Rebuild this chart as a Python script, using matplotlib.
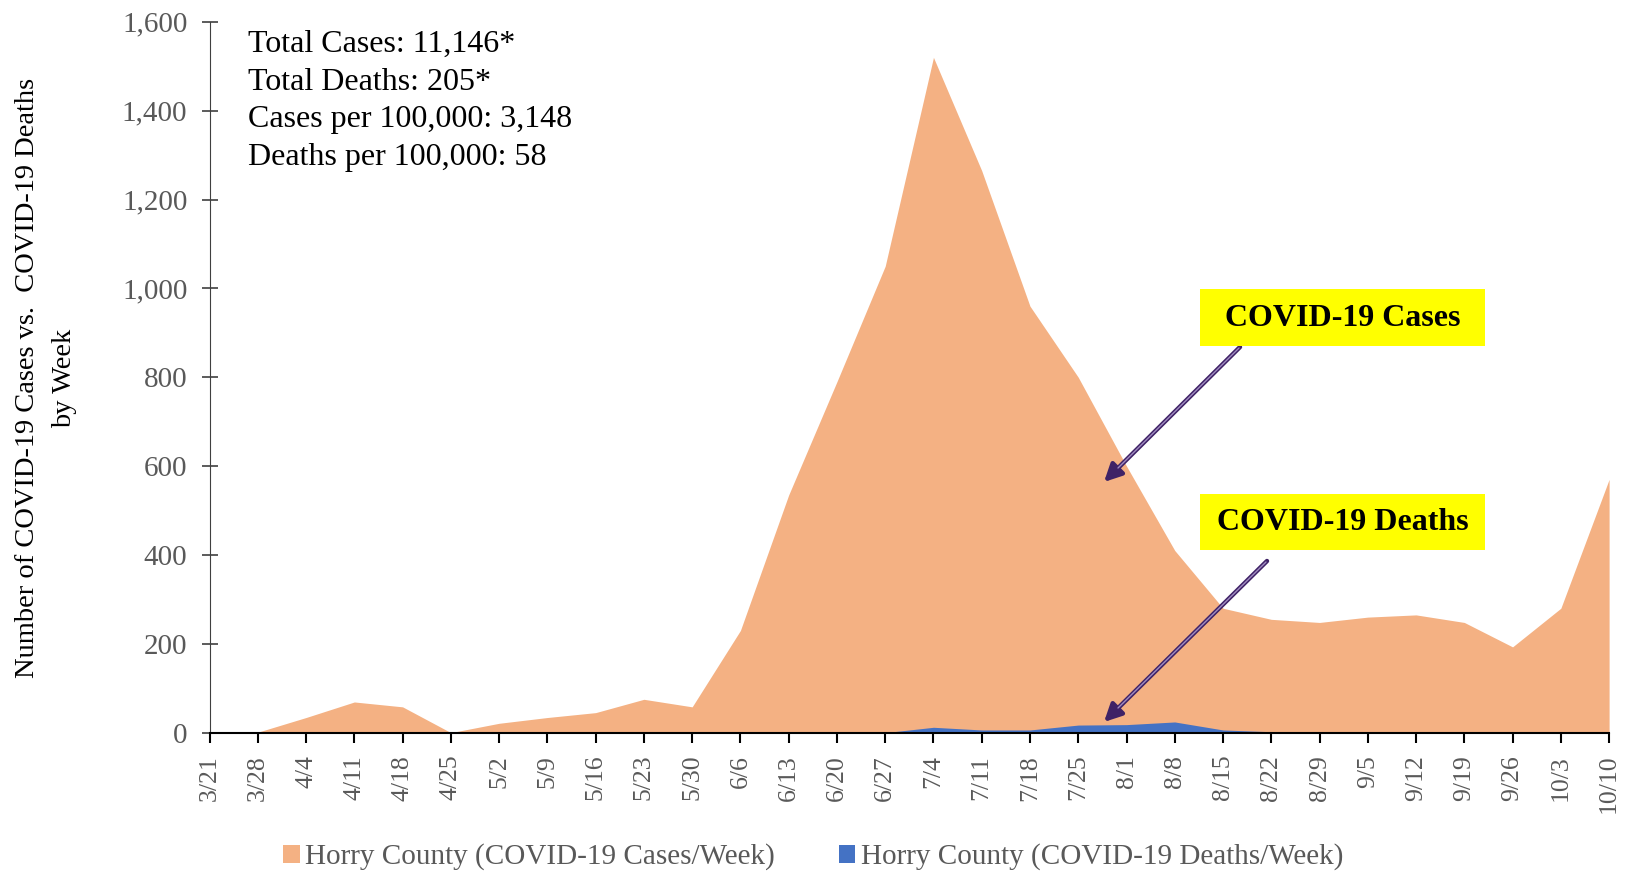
import matplotlib.pyplot as plt
from matplotlib.ticker import FuncFormatter
from matplotlib.patches import Rectangle

plt.rcParams['font.family'] = ['Liberation Serif', 'DejaVu Serif']

weeks = ['3/21', '3/28', '4/4', '4/11', '4/18', '4/25', '5/2', '5/9', '5/16', '5/23',
         '5/30', '6/6', '6/13', '6/20', '6/27', '7/4', '7/11', '7/18', '7/25', '8/1',
         '8/8', '8/15', '8/22', '8/29', '9/5', '9/12', '9/19', '9/26', '10/3', '10/10']
cases = [0, 1, 34, 69, 58, 0, 21, 34, 45, 75,
         58, 230, 535, 790, 1050, 1520, 1265, 960, 800, 600,
         410, 280, 255, 248, 260, 265, 248, 193, 280, 570]
deaths = [0, 0, 0, 0, 0, 0, 0, 0, 0, 0,
          0, 0, 0, 0, 0, 12, 6, 6, 17, 18,
          24, 6, 2, 0, 0, 0, 0, 0, 0, 0]

stats_text = "Total Cases: 11,146*\nTotal Deaths: 205*\nCases per 100,000: 3,148\nDeaths per 100,000: 58"

orange = '#F4B183'
blue = '#4472C4'
grey = '#595959'

W, H = 1627, 873
fig = plt.figure(figsize=(W / 100, H / 100), dpi=100)
ax = fig.add_axes([0.1288, 0.1608, 0.989 - 0.1288, 0.975 - 0.1608])

x = list(range(len(weeks)))
ax.fill_between(x, 0, cases, color=orange, linewidth=0,
                label='Horry County (COVID-19 Cases/Week)')
ax.fill_between(x, 0, deaths, color=blue, linewidth=0,
                label='Horry County (COVID-19 Deaths/Week)')

ax.set_xlim(0, len(weeks) - 1)
ax.set_ylim(0, 1600)
ax.set_yticks(range(0, 1601, 200))
ax.yaxis.set_major_formatter(FuncFormatter(lambda v, p: f'{int(v):,}'))
ax.set_xticks(x)
ax.set_xticklabels(weeks, rotation=90)

for s in ['top', 'right']:
    ax.spines[s].set_visible(False)
ax.spines['left'].set_color('#404040')
ax.spines['bottom'].set_color('black')
ax.spines['bottom'].set_linewidth(1.5)
ax.tick_params(axis='y', direction='inout', length=12, width=1.2, color='#404040',
               labelsize=21, labelcolor=grey, pad=10)
ax.tick_params(axis='x', direction='out', length=7, width=1.5, color='black',
               labelsize=18.5, labelcolor=grey, pad=9)

fig.text(46 / W, 1 - 378 / H, 'Number of COVID-19 Cases vs.  COVID-19 Deaths\nby Week',
         fontsize=20.5, rotation=90, ha='center', va='center', linespacing=1.6)

fig.text(248 / W, 1 - 30 / H, stats_text, fontsize=23, va='top', ha='left',
         linespacing=1.39)


def fig_xy(px, py):
    return (px / W, 1 - py / H)


# yellow callout boxes
for (x0, y0, x1, y1), label in [((1200, 289, 1485, 346), 'COVID-19 Cases'),
                                ((1200, 494, 1485, 550), 'COVID-19 Deaths')]:
    fig.patches.append(Rectangle(fig_xy(x0, y1), (x1 - x0) / W, (y1 - y0) / H,
                                 transform=fig.transFigure, fc='#FFFF00', ec='none',
                                 zorder=5))
    fig.text(*fig_xy((x0 + x1) / 2, (y0 + y1) / 2 + 1), label, fontsize=23,
             fontweight='bold', ha='center', va='center', zorder=6)

# double-line purple arrows
for start, tip in [((1240, 347), (1104, 482)), ((1267, 561), (1104, 722))]:
    fig.add_artist(plt.Annotation('', xy=fig_xy(*tip), xytext=fig_xy(*start),
                                  xycoords='figure fraction', textcoords='figure fraction',
                                  arrowprops=dict(arrowstyle='-|>', color='#3F2266', lw=3.2,
                                                  mutation_scale=26, shrinkA=0, shrinkB=0)))
    fig.add_artist(plt.Annotation('', xy=fig_xy(tip[0] + 14, tip[1] - 14),
                                  xytext=fig_xy(start[0] - 1, start[1] + 1),
                                  xycoords='figure fraction', textcoords='figure fraction',
                                  arrowprops=dict(arrowstyle='-', color='#A08BC0', lw=1.0,
                                                  shrinkA=0, shrinkB=0)))

fig.legend(loc='center', bbox_to_anchor=(0.5, 1 - 857 / H), ncol=2, frameon=False,
           fontsize=21, labelcolor=grey, handlelength=0.55, handleheight=0.55,
           handletextpad=0.2, columnspacing=2.2)

fig.savefig('out.png', dpi=100)
